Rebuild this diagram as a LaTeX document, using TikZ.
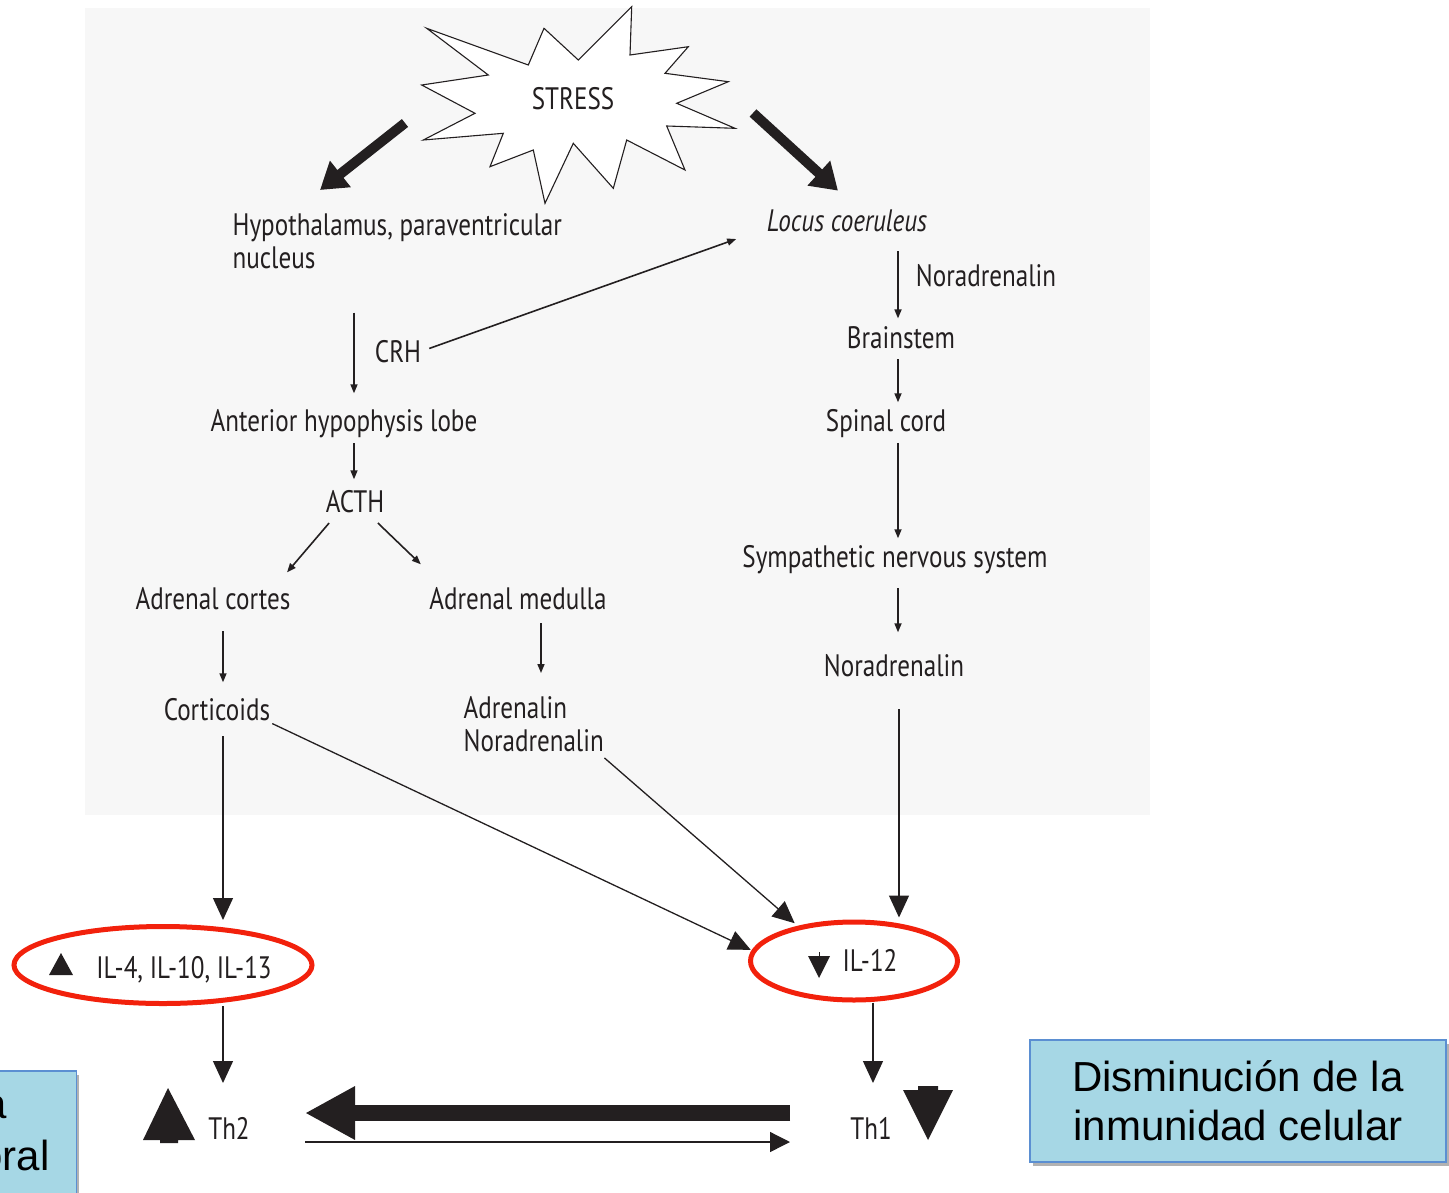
\documentclass[tikz,border=0pt]{standalone}
\usepackage{fontspec}
\setmainfont{Liberation Sans}
\newfontfamily\figfont[FakeStretch=0.81]{PT Sans}
\usetikzlibrary{arrows.meta,calc,positioning,shapes.geometric,shadows}

\definecolor{panelgray}{HTML}{F7F7F7}
\definecolor{inkgray}{HTML}{231F20}
\definecolor{ringred}{HTML}{F2210C}
\definecolor{notefill}{HTML}{A6D7E5}
\definecolor{noteline}{HTML}{5B8FD2}

\begin{document}
\begin{tikzpicture}[x=1pt, y=-1pt, line width=1.3pt]
  \tikzstyle{every node}=[font=\figfont\fontsize{31}{33}\selectfont, text=inkgray, inner sep=0pt]
  \tikzstyle{lbl}=[anchor=base]
  \tikzstyle{small arrow}=[draw=inkgray, line width=1.6pt, -{Triangle[length=9pt,width=7pt]}]
  \tikzstyle{long arrow}=[draw=inkgray, -{Triangle[length=22pt,width=20pt]}]
  \tikzstyle{fat arrow}=[draw=inkgray, line width=10pt, -{Triangle[length=26pt,width=32pt]}]
  \tikzstyle{ring}=[ellipse, draw=ringred, line width=5pt]
  \tikzstyle{note}=[rectangle, fill=notefill, draw=noteline, line width=1.5pt,
    drop shadow={shadow xshift=3pt, shadow yshift=-4pt, fill=black, opacity=.3}]
  \tikzstyle{note text}=[font={\normalfont\fontsize{42}{49}\selectfont}, text=black]

  \useasboundingbox (0,0) rectangle (1449,1192);
  \fill[panelgray] (85,8) rectangle (1150,815);

  % stress burst
  \draw[draw=inkgray, fill=white, line width=1.1pt] (426.7,28.3) -- (528.3,65) -- (544,28.3) -- (578.3,60)
    -- (631.7,6.7) -- (630,55) -- (688.3,46.7) -- (665,73.3) -- (728.3,81.7) -- (676.7,103.3)
    -- (735,128.3) -- (666.7,126) -- (685,170) -- (626.7,140) -- (613.3,188.3) -- (573.3,143.3)
    -- (545,203.3) -- (533.3,150) -- (490,166.7) -- (503.3,133.3) -- (423.3,140) -- (475,113.3)
    -- (421.7,85) -- (488.3,75) -- cycle;
  \node[lbl] (stress) at (573,109) {STRESS};
  \coordinate (burstL) at (405,123);
  \coordinate (burstR) at (753,113);

  % HPA axis
  \node[anchor=north west, align=left] (hypo) at (232,213) {Hypothalamus, paraventricular\\nucleus};
  \node[lbl] (crh) at (398,362) {CRH};
  \node[lbl] (anterior) at (344,431) {Anterior hypophysis lobe};
  \node[lbl] (acth) at (355,512) {ACTH};
  \node[lbl] (cortex) at (213,609) {Adrenal cortes};
  \node[lbl] (medulla) at (518,609) {Adrenal medulla};
  \node[lbl] (corticoids) at (217,720) {Corticoids};
  \node[anchor=north west, align=left] (adren) at (463,696) {Adrenalin\\Noradrenalin};

  % sympathetic branch
  \node[lbl] (locus) at (847,231) {\itshape Locus coeruleus};
  \node[lbl] (nalabel) at (986,286) {Noradrenalin};
  \node[lbl] (brainstem) at (901,348) {Brainstem};
  \node[lbl] (spinal) at (886,431) {Spinal cord};
  \node[lbl] (sympa) at (895,567) {Sympathetic nervous system};
  \node[lbl] (noradr) at (894,676) {Noradrenalin};

  % cytokines
  \node[ring, minimum width=298pt, minimum height=77pt] (il4ring) at (163,965) {};
  \node[lbl] (il4) at (184,978) {IL-4, IL-10, IL-13};
  \fill[inkgray] (61,953) -- (73,975) -- (49,975) -- cycle;
  \node[ring, minimum width=207pt, minimum height=78pt] (il12ring) at (854,961) {};
  \node[lbl] (il12) at (870,971) {IL-12};
  \draw[inkgray, line width=1pt] (819,952) -- (819,958);
  \fill[inkgray] (808,956) -- (830,956) -- (819,978) -- cycle;

  % T helper cells
  \node[lbl] (th2) at (229,1139) {Th2};
  \node[lbl] (th1) at (871,1139) {Th1};
  \fill[inkgray] (168,1088) -- (195,1140) -- (178,1140) -- (178,1143) -- (160,1143) -- (160,1140) -- (143,1140) -- cycle;
  \fill[inkgray] (918,1086) -- (938,1086) -- (938,1090) -- (953,1090) -- (928,1140) -- (903,1090) -- (918,1090) -- cycle;

  \coordinate (lcol) at (354,0);
  \coordinate (rcol) at (898,0);

  % connectors
  \draw[fat arrow] (burstL) -- ($(hypo.north west)+(88,-23)$);
  \draw[fat arrow] (burstR) -- ($(locus.north)+(-9,-18)$);
  \draw[small arrow, shorten <=8pt] (crh.east) -- ($(locus.south west)+(-30,7)$);
  \draw[small arrow, shorten <=43pt, shorten >=15pt] (lcol |- hypo.south) -- (lcol |- anterior.north);
  \draw[small arrow, shorten <=5pt, shorten >=10pt] (lcol |- anterior.south) -- (lcol |- acth.north);
  \draw[small arrow] ($(acth.south west)+(4,10)$) -- ($(cortex.north east)+(-4,-14)$);
  \draw[small arrow] ($(acth.south east)+(-7,10)$) -- ($(medulla.north west)+(-8,-22)$);
  \draw[small arrow, shorten <=21pt, shorten >=15pt] ([xshift=10pt]cortex.south) -- ([xshift=10pt]cortex.south |- corticoids.north);
  \draw[small arrow, shorten <=13pt, shorten >=23pt] ([xshift=23pt]medulla.south) -- ([xshift=23pt]medulla.south |- adren.north);
  \foreach \from/\to/\s/\e in {locus/brainstem/19/7, brainstem/spinal/10/6, spinal/sympa/5/6, sympa/noradr/14/21}
    \draw[small arrow, shorten <=\s pt, shorten >=\e pt] (rcol |- \from.south) -- (rcol |- \to.north);

  \draw[long arrow, shorten <=15pt, shorten >=4pt] ([xshift=6pt]corticoids.south) -- ([xshift=6pt]corticoids.south |- il4ring.north);
  \draw[long arrow, shorten <=32pt, shorten >=2pt] ([xshift=5pt]noradr.south) -- ([xshift=5pt]noradr.south |- il12ring.north);
  \draw[long arrow, shorten <=6pt, shorten >=1pt] ([xshift=-4pt]corticoids.south east) -- (il12ring.174);
  \draw[long arrow, shorten <=8pt, shorten >=4pt] ([xshift=-6pt]adren.south east) -- (il12ring.148);
  \draw[long arrow, shorten >=4pt] (il4ring.south -| 223,0) -- (223,1087);
  \draw[long arrow, shorten >=4pt] (il12ring.south -| 873,0) -- (873,1087);

  \coordinate (swapR) at (790,1113);
  \coordinate (swapL) at (305,1113);
  \draw[draw=inkgray, line width=16pt, -{Triangle[length=50pt,width=50pt]}] (swapR) -- (swapL);
  \coordinate (backL) at (305,1142);
  \coordinate (backR) at (790,1142);
  \draw[draw=inkgray, line width=1.3pt, -{Triangle[length=20pt,width=20pt]}] (backL) -- (backR);

  % comment boxes
  \node[note, minimum width=416pt, minimum height=122pt] (celular) at (1238,1101) {};
  \node[note text, align=center] (celtext) at (celular.center) {Disminución de la\\inmunidad celular};
  \node[note, minimum width=100pt, minimum height=130pt, anchor=north east] (humoral) at (77,1070) {};
  \node[note text, anchor=base east] (hum1) at (8,1118) {a};
  \node[note text, anchor=base east] (hum2) at (50,1170) {oral};
\end{tikzpicture}
\end{document}
